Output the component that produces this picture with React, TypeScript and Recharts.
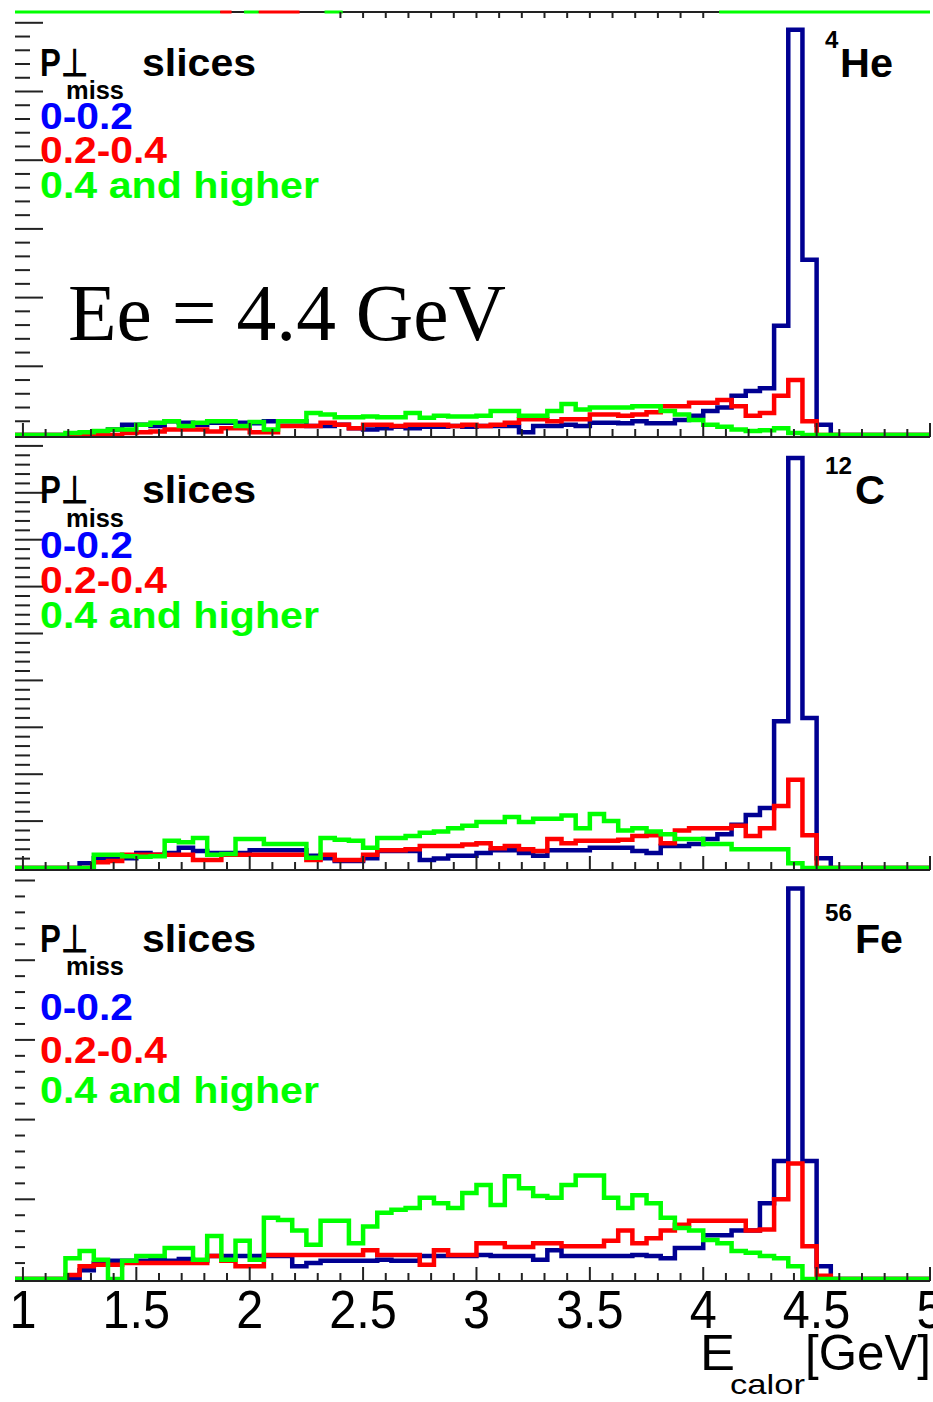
import { ComposedChart, Line, XAxis, YAxis, ReferenceLine } from 'recharts'

// E_calor histograms, 64 bins of 0.0625 GeV from 1 to 5 GeV, one table per target
const BIN_WIDTH = 0.0625
const AXIS_MIN = 0.965
const AXIS_MAX = 5

// 4He
const heBlue = [0, 0, 0, 0, 0, 0, 0.08, 0.15, 0.15, 0.13, 0.2, 0.18, 0.15, 0.18, 0.18, 0.18, 0.17, 0.2, 0.2, 0.2, 0.13, 0.13, 0.15, 0.1, 0.08, 0.1, 0.12, 0.1, 0.12, 0.12, 0.13, 0.12, 0.13, 0.13, 0.13, 0.04, 0.13, 0.13, 0.15, 0.13, 0.18, 0.18, 0.17, 0.2, 0.17, 0.17, 0.22, 0.28, 0.35, 0.4, 0.57, 0.64, 0.68, 1.59, 5.9, 2.55, 0.15, 0, 0, 0, 0, 0, 0, 0]
const heRed = [0, 0, 0, 0, 0, 0, 0, 0.03, 0.04, 0.05, 0.08, 0.08, 0.08, 0.05, 0.1, 0.1, 0.04, 0.04, 0.13, 0.13, 0.13, 0.18, 0.15, 0.1, 0.15, 0.15, 0.13, 0.15, 0.15, 0.15, 0.13, 0.15, 0.13, 0.15, 0.18, 0.23, 0.23, 0.2, 0.23, 0.23, 0.3, 0.3, 0.28, 0.3, 0.33, 0.42, 0.42, 0.47, 0.47, 0.51, 0.42, 0.28, 0.32, 0.57, 0.8, 0.2, 0, 0, 0, 0, 0, 0, 0, 0]
const heGreen = [0, 0, 0, 0.03, 0.04, 0.06, 0.08, 0.08, 0.15, 0.18, 0.2, 0.13, 0.18, 0.2, 0.2, 0.13, 0.19, 0.08, 0.2, 0.2, 0.32, 0.3, 0.26, 0.26, 0.27, 0.26, 0.26, 0.32, 0.25, 0.28, 0.27, 0.27, 0.28, 0.35, 0.35, 0.28, 0.28, 0.35, 0.45, 0.37, 0.4, 0.4, 0.4, 0.42, 0.42, 0.35, 0.3, 0.22, 0.15, 0.12, 0.08, 0.06, 0.07, 0.1, 0.03, 0, 0, 0, 0, 0, 0, 0, 0, 0]

// 12C
const cBlue = [0, 0, 0, 0, 0.1, 0.21, 0.21, 0.21, 0.32, 0.28, 0.32, 0.43, 0.36, 0.32, 0.32, 0.32, 0.38, 0.38, 0.38, 0.38, 0.26, 0.21, 0.15, 0.15, 0.21, 0.36, 0.36, 0.36, 0.17, 0.2, 0.26, 0.26, 0.32, 0.38, 0.38, 0.32, 0.26, 0.38, 0.38, 0.38, 0.43, 0.43, 0.43, 0.36, 0.32, 0.47, 0.47, 0.51, 0.62, 0.72, 0.92, 1.13, 1.28, 3.13, 8.74, 3.2, 0.21, 0, 0, 0, 0, 0, 0, 0]
const cRed = [0, 0, 0, 0, 0, 0.12, 0.15, 0.28, 0.28, 0.28, 0.28, 0.28, 0.17, 0.17, 0.28, 0.28, 0.28, 0.28, 0.28, 0.28, 0.17, 0.28, 0.17, 0.17, 0.28, 0.38, 0.38, 0.4, 0.47, 0.47, 0.47, 0.5, 0.53, 0.42, 0.47, 0.4, 0.36, 0.62, 0.53, 0.58, 0.58, 0.58, 0.6, 0.68, 0.7, 0.53, 0.8, 0.85, 0.85, 0.85, 0.9, 0.68, 0.85, 1.32, 1.88, 0.7, 0, 0, 0, 0, 0, 0, 0, 0]
const cGreen = [0, 0, 0, 0, 0, 0.28, 0.28, 0.25, 0.24, 0.25, 0.58, 0.55, 0.64, 0.28, 0.3, 0.62, 0.62, 0.51, 0.51, 0.51, 0.22, 0.64, 0.6, 0.58, 0.43, 0.64, 0.64, 0.68, 0.75, 0.78, 0.85, 0.9, 0.98, 0.98, 1.09, 0.98, 1.05, 1.05, 1.12, 0.85, 1.15, 1.0, 0.8, 0.85, 0.78, 0.72, 0.62, 0.62, 0.51, 0.51, 0.4, 0.4, 0.4, 0.4, 0.1, 0, 0, 0, 0, 0, 0, 0, 0, 0]

// 56Fe
const feBlue = [0, 0, 0, 0, 0.11, 0.2, 0.23, 0.23, 0.23, 0.25, 0.23, 0.25, 0.23, 0.29, 0.29, 0.29, 0.29, 0.29, 0.29, 0.16, 0.2, 0.23, 0.23, 0.23, 0.23, 0.24, 0.23, 0.23, 0.29, 0.29, 0.29, 0.29, 0.3, 0.29, 0.29, 0.29, 0.24, 0.36, 0.29, 0.29, 0.29, 0.29, 0.29, 0.3, 0.29, 0.26, 0.39, 0.39, 0.55, 0.55, 0.61, 0.61, 0.95, 1.48, 4.9, 1.48, 0.16, 0, 0, 0, 0, 0, 0, 0]
const feRed = [0, 0, 0, 0.05, 0.16, 0.18, 0.18, 0.2, 0.2, 0.2, 0.2, 0.2, 0.2, 0.29, 0.23, 0.16, 0.16, 0.3, 0.3, 0.3, 0.3, 0.3, 0.3, 0.3, 0.36, 0.3, 0.3, 0.3, 0.18, 0.36, 0.3, 0.3, 0.45, 0.45, 0.4, 0.4, 0.45, 0.45, 0.41, 0.41, 0.41, 0.48, 0.61, 0.45, 0.51, 0.61, 0.68, 0.73, 0.73, 0.73, 0.73, 0.61, 0.62, 1.0, 1.45, 0.41, 0.04, 0, 0, 0, 0, 0, 0, 0]
const feGreen = [0, 0, 0, 0.26, 0.35, 0.24, 0, 0.23, 0.29, 0.29, 0.39, 0.39, 0.24, 0.54, 0.24, 0.48, 0.24, 0.77, 0.74, 0.61, 0.43, 0.73, 0.73, 0.45, 0.66, 0.83, 0.87, 0.89, 1.02, 0.95, 0.89, 1.08, 1.18, 0.93, 1.29, 1.14, 1.04, 1.02, 1.18, 1.3, 1.3, 1.02, 0.89, 1.05, 0.95, 0.77, 0.64, 0.61, 0.49, 0.45, 0.35, 0.33, 0.29, 0.26, 0.16, 0, 0, 0, 0, 0, 0, 0, 0, 0]

const xTickValues = Array.from({ length: 41 }, (_, i) => Math.round((1 + i * 0.1) * 10) / 10)

// remnants of the pad above the He pad: its zero-level lines lying on the frame
const topGreenSegments: [number, number][] = [[0.965, 1.87], [1.975, 2.04], [2.33, 2.41], [4.07, 5]]
const topRedSegments: [number, number][] = [[1.87, 1.92], [2.04, 2.22]]
const topTickRange: [number, number] = [2.4, 4.05]

const W = 933
const H = 1402
const NAVY = '#000092'
const RED = '#ff0000'
const GREEN = '#00ff00'
const FONT = '"Liberation Sans", Arial, Helvetica, sans-serif'

function buildRows(blue: number[], red: number[], green: number[]) {
  const rows: { e: number; blue: number; red: number; green: number }[] = [
    { e: AXIS_MIN, blue: 0, red: 0, green: 0 },
  ]
  blue.forEach((_, i) => {
    rows.push({ e: 1 + i * BIN_WIDTH, blue: blue[i], red: red[i], green: green[i] })
  })
  rows.push({ e: AXIS_MAX, blue: 0, red: 0, green: 0 })
  return rows
}

function isMajor(v: number, step: number) {
  const r = v / step
  return Math.abs(r - Math.round(r)) < 1e-6
}

interface PadProps {
  top: number
  bottom: number
  unitPx: number // pixels per major y division
  blue: number[]
  red: number[]
  green: number[]
  yMajorLen: number
  yMinorLen: number
  showLabels?: boolean
  topFrame?: boolean
  children?: (yMax: number) => React.ReactNode
}

function Pad({ top, bottom, unitPx, blue, red, green, yMajorLen, yMinorLen, showLabels, topFrame, children }: PadProps) {
  const rows = buildRows(blue, red, green)
  // zero sits a couple of pixels above the axis line, as in ROOT frames
  const yMin = -2 / unitPx
  const yMax = (bottom - top) / unitPx + yMin
  const yTicks: number[] = []
  for (let i = 1; i * 0.2 <= yMax + 1e-9; i++) yTicks.push(Math.round(i * 2) / 10)

  const XTick = (p: any) => {
    const v = p.payload.value
    const major = isMajor(v, 0.5)
    const label = showLabels && major ? String(v) : null
    return (
      <g>
        <line x1={p.x} x2={p.x} y1={p.y} y2={p.y - (major ? 14 : 8)} stroke="#222" strokeWidth={2} />
        {label && (
          <text
            transform={`translate(${p.x},${p.y + 47}) scale(0.9,1)`}
            textAnchor="middle"
            fontFamily={FONT}
            fontSize={54}
            fill="#000"
          >
            {label}
          </text>
        )}
      </g>
    )
  }

  const TopTick = (p: any) => {
    const v = p.payload.value
    if (v < topTickRange[0] || v > topTickRange[1]) return <g />
    return <line x1={p.x} x2={p.x} y1={p.y} y2={p.y + 6} stroke="#222" strokeWidth={2} />
  }

  const YTick = (p: any) => {
    const v = p.payload.value
    const major = isMajor(v, 1)
    return <line x1={p.x} x2={p.x + (major ? yMajorLen : yMinorLen)} y1={p.y} y2={p.y} stroke="#222" strokeWidth={2} />
  }

  return (
    <div style={{ position: 'absolute', left: 0, top: 0 }}>
      <ComposedChart
        width={W}
        height={H}
        data={rows}
        margin={{ top: topFrame ? top - 1 : top, bottom: H - bottom - 1, left: 14, right: W - 930 }}
        style={{ overflow: 'visible' }}
      >
        <XAxis
          dataKey="e"
          type="number"
          domain={[AXIS_MIN, AXIS_MAX]}
          ticks={xTickValues}
          interval={0}
          height={1}
          tickSize={0}
          tickMargin={0}
          tick={XTick}
          axisLine={{ stroke: '#222', strokeWidth: 2 }}
          tickLine={false}
        />
        {topFrame && (
          <XAxis
            xAxisId="top"
            orientation="top"
            dataKey="e"
            type="number"
            domain={[AXIS_MIN, AXIS_MAX]}
            ticks={xTickValues}
            interval={0}
            height={1}
            tickSize={0}
            tickMargin={0}
            tick={TopTick}
            axisLine={false}
            tickLine={false}
          />
        )}
        <YAxis
          type="number"
          domain={[yMin, yMax]}
          ticks={yTicks}
          interval={0}
          width={1}
          tickSize={0}
          tickMargin={0}
          tick={YTick}
          axisLine={false}
          tickLine={false}
        />
        <Line type="stepAfter" dataKey="blue" stroke={NAVY} strokeWidth={4.5} dot={false} isAnimationActive={false} />
        <Line type="stepAfter" dataKey="red" stroke={RED} strokeWidth={4.5} dot={false} isAnimationActive={false} />
        <Line type="stepAfter" dataKey="green" stroke={GREEN} strokeWidth={4.5} dot={false} isAnimationActive={false} />
        {children && children(yMax)}
      </ComposedChart>
    </div>
  )
}

function Legend({ y }: { y: number[] }) {
  // y = baselines of: P, miss, 0-0.2, 0.2-0.4, 0.4 and higher
  return (
    <g fontFamily={FONT} fontWeight="bold">
      <text x={40} y={y[0]} fontSize={38} textLength={48} lengthAdjust="spacingAndGlyphs">P⊥</text>
      <text x={66} y={y[1]} fontSize={25} textLength={58} lengthAdjust="spacingAndGlyphs">miss</text>
      <text x={142} y={y[0]} fontSize={39} textLength={114} lengthAdjust="spacingAndGlyphs">slices</text>
      <text x={40} y={y[2]} fontSize={37} fill="#0000ff" textLength={93} lengthAdjust="spacingAndGlyphs">0-0.2</text>
      <text x={40} y={y[3]} fontSize={37} fill="#ff0000" textLength={127} lengthAdjust="spacingAndGlyphs">0.2-0.4</text>
      <text x={40} y={y[4]} fontSize={37} fill="#00ff00" textLength={279} lengthAdjust="spacingAndGlyphs">0.4 and higher</text>
    </g>
  )
}

export default function App() {
  return (
    <div style={{ position: 'absolute', left: 0, top: 0, width: W, height: H, background: '#fff', overflow: 'hidden' }}>
      <Pad top={12} bottom={437} unitPx={68.7} blue={heBlue} red={heRed} green={heGreen} yMajorLen={28} yMinorLen={15} topFrame>
        {(yTop) => [
          <ReferenceLine key="frame" y={yTop} stroke="#222" strokeWidth={2} ifOverflow="visible" />,
          ...topGreenSegments.map(([a, b], i) => (
            <ReferenceLine key={'g' + i} segment={[{ x: a, y: yTop }, { x: b, y: yTop }]} stroke={GREEN} strokeWidth={3} ifOverflow="visible" />
          )),
          ...topRedSegments.map(([a, b], i) => (
            <ReferenceLine key={'r' + i} segment={[{ x: a, y: yTop }, { x: b, y: yTop }]} stroke={RED} strokeWidth={3} ifOverflow="visible" />
          )),
        ]}
      </Pad>
      <Pad top={437} bottom={870} unitPx={46.9} blue={cBlue} red={cRed} green={cGreen} yMajorLen={28} yMinorLen={15} />
      <Pad top={870} bottom={1281} unitPx={79.7} blue={feBlue} red={feRed} green={feGreen} yMajorLen={20} yMinorLen={10} showLabels />

      <svg width={W} height={H} style={{ position: 'absolute', left: 0, top: 0, pointerEvents: 'none' }}>
        <Legend y={[76, 99, 129, 163, 198]} />
        <Legend y={[503, 527, 558, 593, 628]} />
        <Legend y={[952, 975, 1020, 1063, 1103]} />

        <text x={68} y={340} fontFamily='"Liberation Serif", "Times New Roman", serif' fontSize={80} textLength={438} lengthAdjust="spacingAndGlyphs">
          Ee = 4.4 GeV
        </text>

        <g fontFamily={FONT} fontWeight="bold">
          <text x={825} y={48} fontSize={24}>4</text>
          <text x={840} y={77} fontSize={40} textLength={53} lengthAdjust="spacingAndGlyphs">He</text>
          <text x={825} y={474} fontSize={24} textLength={27} lengthAdjust="spacingAndGlyphs">12</text>
          <text x={855} y={504} fontSize={40} textLength={30} lengthAdjust="spacingAndGlyphs">C</text>
          <text x={825} y={921} fontSize={24} textLength={27} lengthAdjust="spacingAndGlyphs">56</text>
          <text x={855} y={953} fontSize={40} textLength={48} lengthAdjust="spacingAndGlyphs">Fe</text>
        </g>

        <g fontFamily={FONT}>
          <text x={700} y={1370} fontSize={50} textLength={35} lengthAdjust="spacingAndGlyphs">E</text>
          <text x={730} y={1394} fontSize={28} textLength={75} lengthAdjust="spacingAndGlyphs">calor</text>
          <text x={805} y={1370} fontSize={50} textLength={126} lengthAdjust="spacingAndGlyphs">[GeV]</text>
        </g>
      </svg>
    </div>
  )
}
